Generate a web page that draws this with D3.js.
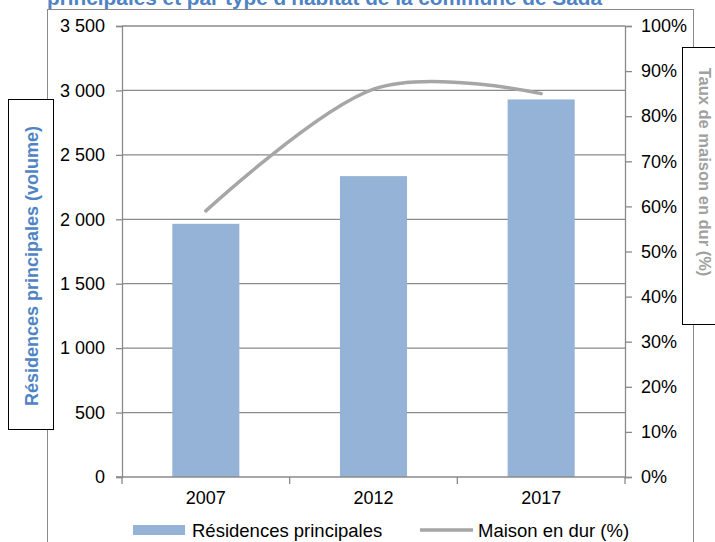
<!DOCTYPE html>
<html lang="fr">
<head>
  <meta charset="UTF-8">
  <title>Résidences principales - Sada</title>
  <script src="https://d3js.org/d3.v7.min.js"></script>
  <style>
    body { margin: 0; background: #fff; }
    text { font-family: "Liberation Sans", Arial, sans-serif; }
  </style>
</head>
<body>
  <svg id="svg" width="715" height="542"></svg>
  <script>
    // données
    var years = ["2007", "2012", "2017"]
    var residences = [1965, 2335, 2930]
    var maisonDur = [59, 86, 85]   // en %
    var leftTicks = [0, 500, 1000, 1500, 2000, 2500, 3000, 3500]
    var rightTicks = [0, 10, 20, 30, 40, 50, 60, 70, 80, 90, 100]

    var svg = d3.select('svg')
    var pLeft = 122, pRight = 625, pTop = 26, pBottom = 477
    var grid = '#8a8a8a'

    var fr = d3.formatLocale({ decimal: ",", thousands: " ", grouping: [3], currency: ["", " €"] })
    var fmt = fr.format(",")

    var x = d3.scaleBand().domain(years).range([pLeft, pRight]).paddingInner(0.6).paddingOuter(0.3)
    var y = d3.scaleLinear().domain([0, 3500]).range([pBottom, pTop])
    var y2 = d3.scaleLinear().domain([0, 100]).range([pBottom, pTop])

    // cadre extérieur
    svg.append('rect').attr('x', 47.5).attr('y', 9.5).attr('width', 646).attr('height', 560)
      .attr('fill', 'none').attr('stroke', grid).attr('stroke-width', 1)

    // titre (coupé en haut)
    svg.append('text').attr('x', 47).attr('y', 5)
      .style('font-size', '20.8px').style('font-weight', 'bold').attr('fill', '#4f84c4')
      .text("principales et par type d'habitat de la commune de Sada")

    // quadrillage
    svg.append('g').selectAll('line').data(leftTicks.slice(1)).enter().append('line')
      .attr('x1', pLeft).attr('x2', pRight)
      .attr('y1', d => y(d)).attr('y2', d => y(d))
      .attr('stroke', grid).attr('stroke-width', 1.3)

    // barres
    svg.append('g').selectAll('rect').data(residences).enter().append('rect')
      .attr('x', (d, i) => x(years[i]))
      .attr('y', d => y(d))
      .attr('width', x.bandwidth())
      .attr('height', d => pBottom - y(d))
      .attr('fill', '#95b3d7')

    // axe gauche
    var gl = svg.append('g').attr('transform', 'translate(' + pLeft + ',0)')
      .call(d3.axisLeft(y).tickValues(leftTicks).tickFormat(fmt).tickSize(6).tickPadding(11))
    gl.select('.domain').attr('stroke', grid).attr('stroke-width', 1.3)
    gl.selectAll('.tick line').attr('stroke', grid).attr('stroke-width', 1.3)
    gl.selectAll('text').style('font-size', '18px').attr('fill', '#000')

    // axe droit
    var gr = svg.append('g').attr('transform', 'translate(' + pRight + ',0)')
      .call(d3.axisRight(y2).tickValues(rightTicks).tickFormat(d => d + '%').tickSize(7).tickPadding(9))
    gr.select('.domain').attr('stroke', grid).attr('stroke-width', 1.3)
    gr.selectAll('.tick line').attr('stroke', grid).attr('stroke-width', 1.3)
    gr.selectAll('text').style('font-size', '18px').attr('fill', '#000')

    // axe du bas
    var gb = svg.append('g').attr('transform', 'translate(0,' + pBottom + ')')
      .call(d3.axisBottom(x).tickSize(0).tickPadding(14))
    gb.select('.domain').remove()
    gb.selectAll('text').style('font-size', '18px').attr('fill', '#000')
    svg.append('line').attr('x1', pLeft - 6).attr('x2', pRight).attr('y1', pBottom).attr('y2', pBottom)
      .attr('stroke', grid).attr('stroke-width', 1.3)
    var bounds = [pLeft].concat(years.map(d => x(d) + x.bandwidth() / 2 + x.step() / 2))
    svg.append('g').selectAll('line').data(bounds).enter().append('line')
      .attr('x1', d => d).attr('x2', d => d).attr('y1', pBottom).attr('y2', pBottom + 7)
      .attr('stroke', grid).attr('stroke-width', 1.3)

    // courbe lissée
    var line = d3.line()
      .x((d, i) => x(years[i]) + x.bandwidth() / 2)
      .y(d => y2(d))
      .curve(d3.curveCardinal.tension(0))
    svg.append('path').datum(maisonDur).attr('d', line)
      .attr('fill', 'none').attr('stroke', '#a6a6a6').attr('stroke-width', 3.5)
      .attr('stroke-linecap', 'round')

    // titre axe gauche
    svg.append('rect').attr('x', 8.5).attr('y', 99.5).attr('width', 45).attr('height', 330)
      .attr('fill', '#fff').attr('stroke', '#000').attr('stroke-width', 1)
    svg.append('text').attr('transform', 'translate(32,266) rotate(-90)')
      .attr('text-anchor', 'middle').attr('dominant-baseline', 'central')
      .style('font-size', '18px').style('font-weight', 'bold').attr('fill', '#4f84c4')
      .text('Résidences principales (volume)')

    // titre axe droit
    svg.append('rect').attr('x', 682.5).attr('y', 47.5).attr('width', 60).attr('height', 277)
      .attr('fill', '#fff').attr('stroke', '#000').attr('stroke-width', 1)
    svg.append('text').attr('transform', 'translate(705,172) rotate(90)')
      .attr('text-anchor', 'middle').attr('dominant-baseline', 'central')
      .style('font-size', '16.5px').style('font-weight', 'bold').attr('fill', '#a0a0a0')
      .text('Taux de maison en dur  (%)')

    // légende
    var ly = 530
    svg.append('rect').attr('x', 133).attr('y', ly - 5).attr('width', 52).attr('height', 10).attr('fill', '#95b3d7')
    svg.append('text').attr('x', 192).attr('y', ly).attr('dominant-baseline', 'central')
      .style('font-size', '18.5px').text('Résidences principales')
    svg.append('line').attr('x1', 420).attr('x2', 473).attr('y1', ly).attr('y2', ly)
      .attr('stroke', '#a6a6a6').attr('stroke-width', 3.5)
    svg.append('text').attr('x', 478).attr('y', ly).attr('dominant-baseline', 'central')
      .style('font-size', '18.5px').text('Maison en dur (%)')
  </script>
</body>
</html>
